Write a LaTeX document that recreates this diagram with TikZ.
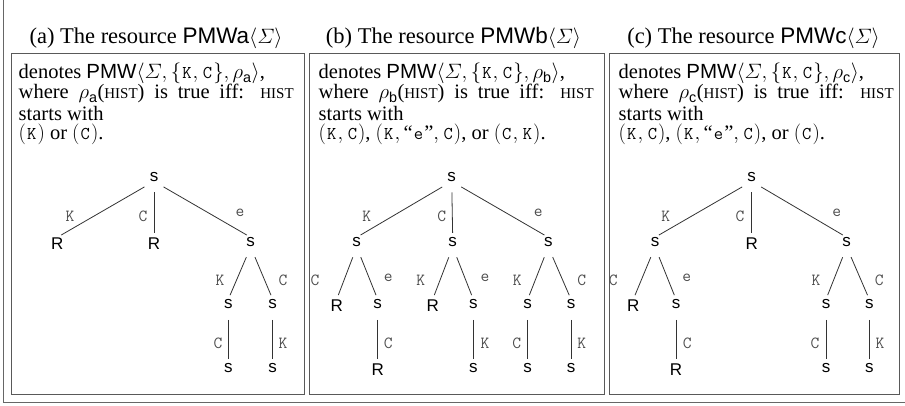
\documentclass[tikz,border=0pt]{standalone}
\usepackage{amsmath}
\usepackage{fontspec}
\setmainfont{Liberation Serif}
\setsansfont{Liberation Sans}
% small capitals drawn as reduced upper case
\newcommand\histsc{{\fontsize{15}{15}\selectfont HIST}}
% typewriter symbols in the running text, each on a fixed-width slot
\newcommand\tts[1]{\text{\makebox[11.5pt]{\ttfamily\fontsize{18}{18}\selectfont #1}}}
\newcommand\kk{\tts{K}}
\newcommand\cc{\tts{C}}
\newcommand\ee{\tts{e}}
\tikzset{
  outer/.style={draw=black!60, line width=0.9pt},
  panel/.style={draw=black!65, line width=0.9pt},
  ttl/.style={font=\fontsize{22.5}{22.5}\selectfont, anchor=base, inner sep=0pt},
  body/.style={font=\fontsize{20.5}{20.5}\selectfont, anchor=base west, inner sep=0pt,
    text height=14pt, text depth=4pt},
  tn/.style={font=\sffamily\fontsize{17}{17}\selectfont, inner sep=0pt, anchor=north},
  lab/.style={font=\ttfamily\fontsize{17}{17}\selectfont, text=black!70, inner sep=0pt},
  br/.style={draw=black!80, line width=0.8pt, shorten <=11pt, shorten >=4.5pt}
}
\begin{document}
\begin{tikzpicture}[x=1pt, y=-1pt]
\useasboundingbox (0,0) rectangle (905,406);
% outer frame (left and bottom sides)
\draw[outer] (3.3,0) -- (3.3,402.7) -- (905,402.7);

% ---------- panel (a) ----------
\node[ttl] (ta) at (156,44) {(a) The resource \textsf{PMWa}$\langle\varSigma\rangle$};
\draw[panel] (11.7,53.3) rectangle (304,394.3);
\node[body] (a1) at (18.5,79) {denotes \textsf{PMW}$\langle\varSigma, \{\kk, \cc\}, \rho_{\textsf{a}}\rangle$,};
\node[body] (a2) at (18.5,99) {\makebox[275pt][s]{where $\rho_{\textsf{a}}$(\histsc) is true iff: \histsc}};
\node[body] (a3) at (18.5,120.5) {starts with};
\node[body] (a4) at (18.5,140) {$(\kk)$ or $(\cc)$.};

\node[tn] (ar)   at (154,171.7)   {s};
\node[tn] (aK)   at (57.3,237.3)  {R};
\node[tn] (aC)   at (154,237.3)   {R};
\node[tn] (ae)   at (250.7,237.3) {s};
\node[tn] (aeK)  at (228.3,299.3) {s};
\node[tn] (aeC)  at (272.7,299.3) {s};
\node[tn] (aeKC) at (228.3,363.3) {s};
\node[tn] (aeCK) at (272.7,363.3) {s};
\draw[br] (ar.south) -- (aK.north);
\draw[br] (ar.south) -- (aC.north);
\draw[br] (ar.south) -- (ae.north);
\draw[br] (ae.south) -- (aeK.north);
\draw[br] (ae.south) -- (aeC.north);
\draw[br] (aeK.south) -- (aeKC.north);
\draw[br] (aeC.south) -- (aeCK.north);
\node[lab] (la1) at (70,216)    {K};
\node[lab] (la2) at (143,216)   {C};
\node[lab] (la3) at (240,213)   {e};
\node[lab] (la4) at (220,280)   {K};
\node[lab] (la5) at (283,280)   {C};
\node[lab] (la6) at (218,343.3) {C};
\node[lab] (la7) at (283,343.3) {K};

% ---------- panel (b) ----------
\node[ttl] (tb) at (453.5,44) {(b) The resource \textsf{PMWb}$\langle\varSigma\rangle$};
\draw[panel] (309.3,53.3) rectangle (604,394.3);
\node[body] (b1) at (318.5,79) {denotes \textsf{PMW}$\langle\varSigma, \{\kk, \cc\}, \rho_{\textsf{b}}\rangle$,};
\node[body] (b2) at (318.5,99) {\makebox[275pt][s]{where $\rho_{\textsf{b}}$(\histsc) is true iff: \histsc}};
\node[body] (b3) at (318.5,120.5) {starts with};
\node[body] (b4) at (318.5,140) {$(\kk, \cc)$, $(\kk, \text{``\ee''}, \cc)$, or $(\cc, \kk)$.};

\node[tn] (br)   at (451.7,171.7) {s};
\node[tn] (bK)   at (356.7,237.3) {s};
\node[tn] (bC)   at (452.7,237.3) {s};
\node[tn] (be)   at (548.3,237.3) {s};
\node[tn] (bKC)  at (336.7,299.3) {R};
\node[tn] (bKe)  at (377.7,299.3) {s};
\node[tn] (bCK)  at (432.7,299.3) {R};
\node[tn] (bCe)  at (473.3,299.3) {s};
\node[tn] (beK)  at (527.7,299.3) {s};
\node[tn] (beC)  at (571,299.3)   {s};
\node[tn] (bKeC) at (377.7,363.3) {R};
\node[tn] (bCeK) at (473.3,363.3) {s};
\node[tn] (beKC) at (527.7,363.3) {s};
\node[tn] (beCK) at (571,363.3)   {s};
\draw[br] (br.south) -- (bK.north);
\draw[br] (br.south) -- (bC.north);
\draw[br] (br.south) -- (be.north);
\draw[br] (bK.south) -- (bKC.north);
\draw[br] (bK.south) -- (bKe.north);
\draw[br] (bC.south) -- (bCK.north);
\draw[br] (bC.south) -- (bCe.north);
\draw[br] (be.south) -- (beK.north);
\draw[br] (be.south) -- (beC.north);
\draw[br] (bKe.south) -- (bKeC.north);
\draw[br] (bCe.south) -- (bCeK.north);
\draw[br] (beK.south) -- (beKC.north);
\draw[br] (beC.south) -- (beCK.north);
\node[lab] (lb1)  at (366.7,216)   {K};
\node[lab] (lb2)  at (441.7,216)   {C};
\node[lab] (lb3)  at (538.3,213)   {e};
\node[lab] (lb4)  at (315,280)     {C};
\node[lab] (lb5)  at (388.3,278.3) {e};
\node[lab] (lb6)  at (420.7,280)   {K};
\node[lab] (lb7)  at (485,278.3)   {e};
\node[lab] (lb8)  at (517.3,280)   {K};
\node[lab] (lb9)  at (581.7,280)   {C};
\node[lab] (lb10) at (388.3,343.3) {C};
\node[lab] (lb11) at (485,343.3)   {K};
\node[lab] (lb12) at (516.7,343.3) {C};
\node[lab] (lb13) at (581.7,343.3) {K};

% ---------- panel (c) ----------
\node[ttl] (tc) at (753.5,44) {(c) The resource \textsf{PMWc}$\langle\varSigma\rangle$};
\draw[panel] (609.3,53.3) rectangle (899.3,394.3);
\node[body] (c1) at (618.5,79) {denotes \textsf{PMW}$\langle\varSigma, \{\kk, \cc\}, \rho_{\textsf{c}}\rangle$,};
\node[body] (c2) at (618.5,99) {\makebox[275pt][s]{where $\rho_{\textsf{c}}$(\histsc) is true iff: \histsc}};
\node[body] (c3) at (618.5,120.5) {starts with};
\node[body] (c4) at (618.5,140) {$(\kk, \cc)$, $(\kk, \text{``\ee''}, \cc)$, or $(\cc)$.};

\node[tn] (cr)   at (751.7,171.7) {s};
\node[tn] (cK)   at (655,237.3)   {s};
\node[tn] (cC)   at (751.7,237.3) {R};
\node[tn] (ce)   at (846.7,237.3) {s};
\node[tn] (cKC)  at (633.3,299.3) {R};
\node[tn] (cKe)  at (676,299.3)   {s};
\node[tn] (ceK)  at (826,299.3)   {s};
\node[tn] (ceC)  at (869.3,299.3) {s};
\node[tn] (cKeC) at (676,363.3)   {R};
\node[tn] (ceKC) at (826,363.3)   {s};
\node[tn] (ceCK) at (869.3,363.3) {s};
\draw[br] (cr.south) -- (cK.north);
\draw[br] (cr.south) -- (cC.north);
\draw[br] (cr.south) -- (ce.north);
\draw[br] (cK.south) -- (cKC.north);
\draw[br] (cK.south) -- (cKe.north);
\draw[br] (ce.south) -- (ceK.north);
\draw[br] (ce.south) -- (ceC.north);
\draw[br] (cKe.south) -- (cKeC.north);
\draw[br] (ceK.south) -- (ceKC.north);
\draw[br] (ceC.south) -- (ceCK.north);
\node[lab] (lc1)  at (665.7,216)   {K};
\node[lab] (lc2)  at (740,216)     {C};
\node[lab] (lc3)  at (836.7,213)   {e};
\node[lab] (lc4)  at (613.3,280)   {C};
\node[lab] (lc5)  at (686.7,278.3) {e};
\node[lab] (lc6)  at (816,280)     {K};
\node[lab] (lc7)  at (879.3,280)   {C};
\node[lab] (lc8)  at (687.3,343.3) {C};
\node[lab] (lc9)  at (815,343.3)   {C};
\node[lab] (lc10) at (880,343.3)   {K};
\end{tikzpicture}
\end{document}
